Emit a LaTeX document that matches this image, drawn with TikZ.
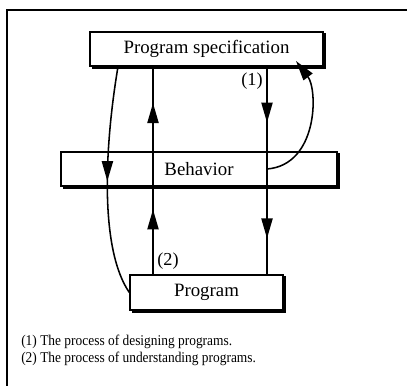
\documentclass[tikz,border=0pt]{standalone}
\usepackage{fontspec}
\setmainfont{Liberation Serif}
\usetikzlibrary{arrows.meta, decorations.markings}
\tikzstyle{stage} = [rectangle, draw=black, fill=white, line width=0.9pt, text centered, inner sep=0pt, font=\fontsize{13.4}{15}\selectfont, preaction={draw=black, fill=black, line width=0.9pt, transform canvas={shift={(1.6pt,-1.4pt)}}}]
\tikzstyle{flow} = [line width=1.1pt]
\tikzstyle{tag} = [inner sep=0pt, font=\fontsize{13}{15}\selectfont]
\tikzstyle{arrow} = [flow, -{Triangle[length=5mm, width=2.8mm]}]
\tikzset{midtip/.style={postaction={decorate}, decoration={markings, mark=at position #1 with {\arrow{Triangle[length=5mm, width=2.8mm]}}}}}

\begin{document}
\begin{tikzpicture}[x=0.025cm, y=-0.025cm]
\useasboundingbox (0,0) rectangle (407,386);
% frame
\draw[line width=1.2pt] (7,386) -- (7,10) -- (407,10);

\node (spec) [stage, minimum width=5.825cm, minimum height=0.85cm] at (206.5,49) {Program specification};
\node (behav) [stage, minimum width=6.9cm, minimum height=0.85cm] at (199,169) {Behavior};
\node (prog) [stage, minimum width=3.825cm, minimum height=0.875cm] at (206.5,292.5) {Program};

\coordinate (upx) at (153,0);
\coordinate (dnx) at (267,0);
\coordinate (lcx) at (118,0);
\coordinate (retip) at (296,61);

% (2) understanding
\draw[flow, midtip=0.74] (prog.north -| upx) -- (behav.south -| upx);
\draw[flow] (behav.south -| upx) -- (behav.north -| upx);
\draw[flow, midtip=0.57] (behav.north -| upx) -- (spec.south -| upx);

% (1) designing
\draw[flow, midtip=0.66] (spec.south -| dnx) -- (behav.north -| dnx);
\draw[flow] (behav.north -| dnx) -- (behav.south -| dnx);
\draw[flow, midtip=0.59] (behav.south -| dnx) -- (prog.north -| dnx);

% curves
\draw[flow, midtip=0.5] (spec.south -| lcx) .. controls (104,150) and (100,250) .. (prog.west);
\draw[arrow] (behav.center -| dnx) .. controls (318,165) and (318,90) .. (retip);

\node (one) [tag, anchor=east] at (263,81) {(1)};
\node (two) [tag, anchor=west] at (157,261) {(2)};

\node (legend) [anchor=north west, align=left, inner sep=0pt, font=\fontsize{10.6}{12}\selectfont] at (21,335) {\scalebox{0.9}[1]{(1) The process of designing programs.}\\\scalebox{0.9}[1]{(2) The process of understanding programs.}};
\end{tikzpicture}
\end{document}
